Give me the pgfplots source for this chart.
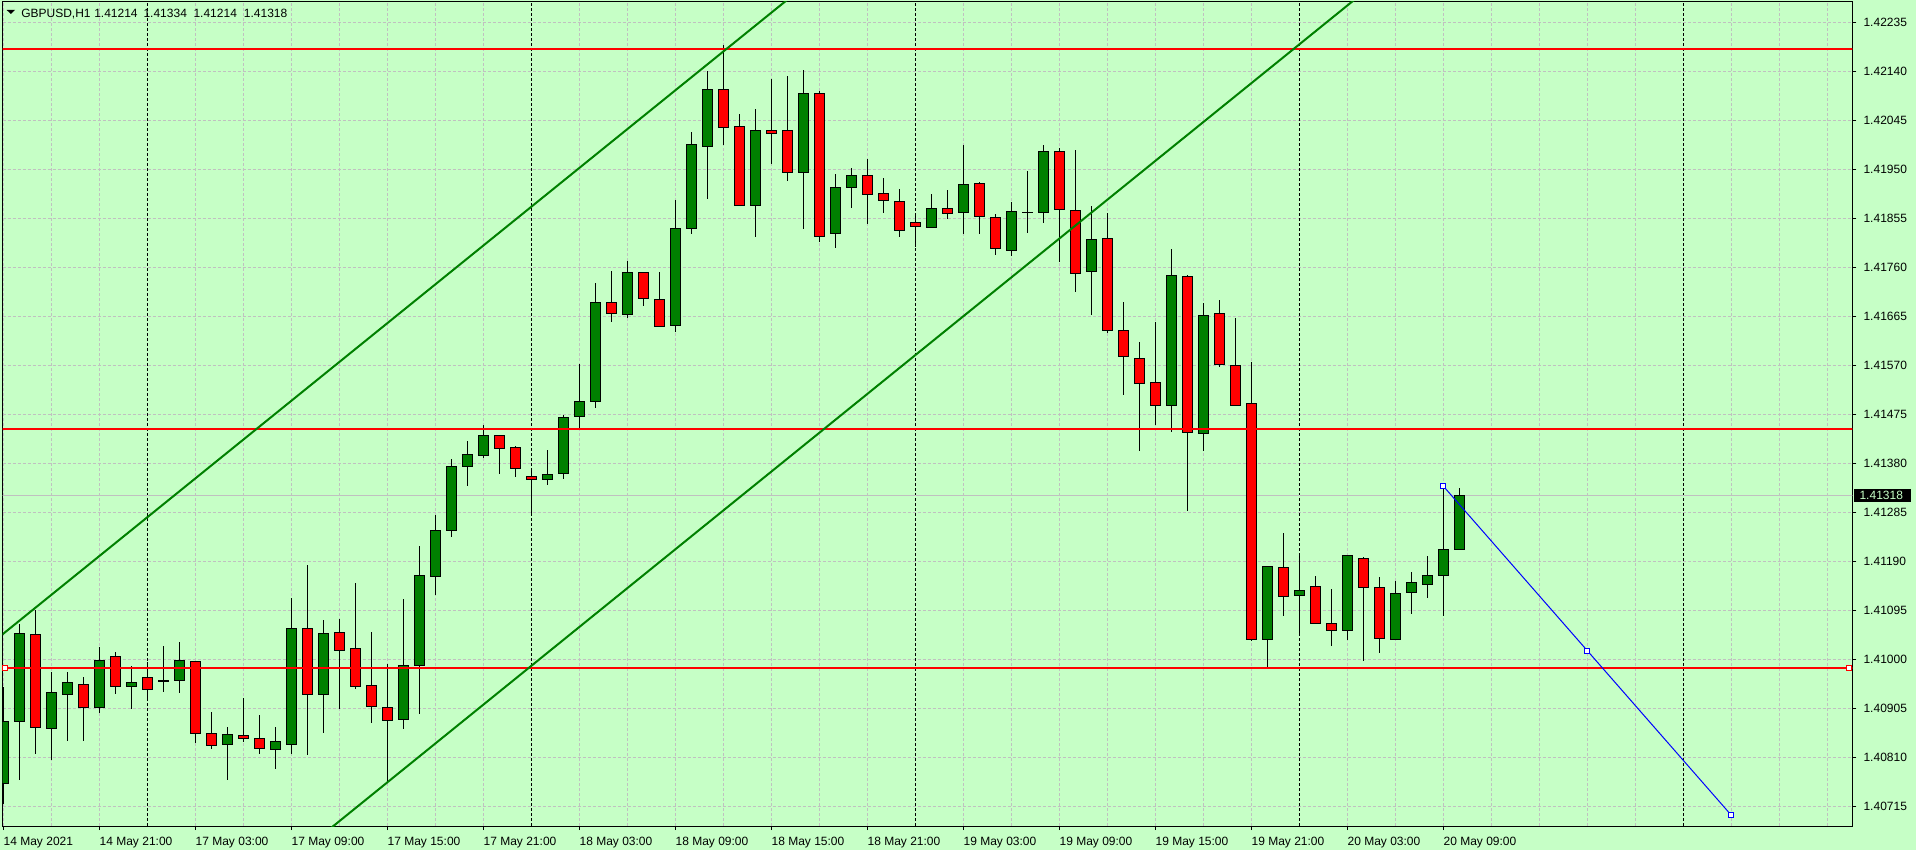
\documentclass[border=0pt]{standalone}
\usepackage{pgfplots}
\usepackage{pgfplotstable}
\usepackage{fontspec}
\setmainfont{Liberation Sans}
\pgfplotsset{compat=1.18}
\definecolor{bg}{RGB}{198,255,198}
\definecolor{gridc}{RGB}{192,192,192}
\definecolor{bull}{RGB}{0,128,0}
\definecolor{bear}{RGB}{255,0,0}
\definecolor{chan}{RGB}{0,128,0}

\pgfplotstableread{
i o h l c
0 1.40760 1.40947 1.40721 1.40880
1 1.40882 1.41070 1.40768 1.41051
2 1.41049 1.41097 1.40818 1.40868
3 1.40867 1.40976 1.40805 1.40936
4 1.40934 1.40976 1.40843 1.40956
5 1.40954 1.40966 1.40843 1.40909
6 1.40907 1.41026 1.40897 1.40998
7 1.41006 1.41016 1.40934 1.40948
8 1.40948 1.40987 1.40904 1.40956
9 1.40965 1.40997 1.40921 1.40942
10 1.40960 1.41028 1.40938 1.40960
11 1.40960 1.41034 1.40936 1.40998
12 1.40996 1.40998 1.40839 1.40857
13 1.40857 1.40898 1.40827 1.40834
14 1.40836 1.40870 1.40767 1.40855
15 1.40853 1.40925 1.40841 1.40847
16 1.40847 1.40892 1.40816 1.40828
17 1.40826 1.40869 1.40788 1.40841
18 1.40837 1.41120 1.40819 1.41062
19 1.41062 1.41183 1.40815 1.40934
20 1.40934 1.41077 1.40857 1.41051
21 1.41053 1.41079 1.40905 1.41019
22 1.41022 1.41150 1.40945 1.40948
23 1.40950 1.41055 1.40878 1.40909
24 1.40907 1.40991 1.40764 1.40882
25 1.40884 1.41119 1.40866 1.40989
26 1.40988 1.41222 1.40896 1.41163
27 1.41163 1.41280 1.41125 1.41252
28 1.41252 1.41389 1.41238 1.41376
29 1.41376 1.41424 1.41337 1.41398
30 1.41396 1.41455 1.41392 1.41435
31 1.41435 1.41435 1.41362 1.41409
32 1.41411 1.41414 1.41354 1.41371
33 1.41355 1.41365 1.41278 1.41349
34 1.41349 1.41407 1.41339 1.41359
35 1.41361 1.41475 1.41351 1.41471
36 1.41471 1.41573 1.41445 1.41501
37 1.41501 1.41732 1.41489 1.41693
38 1.41693 1.41755 1.41655 1.41671
39 1.41669 1.41773 1.41663 1.41751
40 1.41751 1.41751 1.41687 1.41700
41 1.41698 1.41751 1.41646 1.41646
42 1.41648 1.41893 1.41636 1.41836
43 1.41836 1.42024 1.41826 1.41999
44 1.41997 1.42141 1.41894 1.42106
45 1.42106 1.42193 1.41998 1.42032
46 1.42034 1.42057 1.41879 1.41881
47 1.41879 1.42069 1.41820 1.42026
48 1.42026 1.42126 1.41961 1.42020
49 1.42026 1.42133 1.41929 1.41945
50 1.41945 1.42143 1.41835 1.42098
51 1.42098 1.42104 1.41810 1.41820
52 1.41826 1.41943 1.41800 1.41915
53 1.41915 1.41955 1.41876 1.41939
54 1.41939 1.41970 1.41845 1.41902
55 1.41904 1.41935 1.41868 1.41890
56 1.41888 1.41914 1.41820 1.41832
57 1.41848 1.41867 1.41802 1.41840
58 1.41838 1.41903 1.41838 1.41875
59 1.41875 1.41912 1.41855 1.41865
60 1.41867 1.41999 1.41826 1.41921
61 1.41923 1.41926 1.41826 1.41859
62 1.41857 1.41865 1.41785 1.41797
63 1.41793 1.41888 1.41783 1.41869
64 1.41868 1.41948 1.41828 1.41868
65 1.41867 1.41997 1.41847 1.41985
66 1.41985 1.41991 1.41771 1.41873
67 1.41873 1.41989 1.41713 1.41751
68 1.41753 1.41881 1.41669 1.41815
69 1.41817 1.41867 1.41634 1.41638
70 1.41638 1.41694 1.41513 1.41588
71 1.41586 1.41615 1.41405 1.41537
72 1.41537 1.41655 1.41456 1.41493
73 1.41493 1.41797 1.41442 1.41745
74 1.41743 1.41746 1.41289 1.41440
75 1.41439 1.41693 1.41405 1.41667
76 1.41671 1.41698 1.41568 1.41572
77 1.41572 1.41662 1.41493 1.41493
78 1.41497 1.41576 1.41035 1.41039
79 1.41039 1.41183 1.40985 1.41181
80 1.41179 1.41247 1.41086 1.41122
81 1.41124 1.41204 1.41048 1.41134
82 1.41142 1.41163 1.41070 1.41070
83 1.41070 1.41138 1.41027 1.41058
84 1.41058 1.41202 1.41038 1.41202
85 1.41196 1.41200 1.40998 1.41140
86 1.41140 1.41159 1.41013 1.41041
87 1.41041 1.41153 1.41041 1.41130
88 1.41132 1.41169 1.41089 1.41152
89 1.41146 1.41202 1.41122 1.41165
90 1.41163 1.41336 1.41083 1.41214
91 1.41214 1.41334 1.41214 1.41318
}\ohlc

\begin{document}
\begin{tikzpicture}[x=1pt,y=1pt]
\fill[bg] (-1.875,-18) rectangle (1435.125,619.5);
\begin{axis}[
  at={(0pt,0pt)}, anchor=south west,
  scale only axis, width=1387.35pt, height=618pt,
  xmin=-0.056, xmax=115.56, ymin=1.406772, ymax=1.422747,
  axis line style={black, line width=0.75pt},
  xtick={0,6,...,90},
  xticklabels={14 May 2021, 14 May 21:00, 17 May 03:00, 17 May 09:00, 17 May 15:00, 17 May 21:00, 18 May 03:00, 18 May 09:00, 18 May 15:00, 18 May 21:00, 19 May 03:00, 19 May 09:00, 19 May 15:00, 19 May 21:00, 20 May 03:00, 20 May 09:00},
  minor xtick={3,15,21,27,39,45,51,63,69,75,87,93,96,99,102,108,111,114},
  ytick={1.40715,1.40810,1.40905,1.41000,1.41095,1.41190,1.41285,1.41380,1.41475,1.41570,1.41665,1.41760,1.41855,1.41950,1.42045,1.42140,1.42235},
  yticklabels={1.40715,1.40810,1.40905,1.41000,1.41095,1.41190,1.41285,1.41380,1.41475,1.41570,1.41665,1.41760,1.41855,1.41950,1.42045,1.42140,1.42235},
  xtick pos=left, ytick pos=right, yticklabel pos=right,
  tick align=outside, major tick length=3pt, minor tick length=0pt,
  tick style={black, line width=0.75pt},
  grid=both,
  major grid style={gridc, line width=0.75pt, dash pattern=on 2.25pt off 1.5pt},
  minor grid style={gridc, line width=0.75pt, dash pattern=on 2.25pt off 1.5pt},
  extra x ticks={9,33,57,81,105}, extra x tick labels={},
  extra x tick style={grid=major, major grid style={black, line width=0.75pt, dash pattern=on 2.25pt off 1.5pt}, major tick length=0pt},
  xticklabel style={anchor=base west, inner sep=0pt, yshift=-11.25pt},
  yticklabel style={anchor=west, inner sep=0pt, xshift=5.25pt},
  ticklabel style={font=\fontsize{9pt}{10pt}\selectfont},
]
% bid line
\addplot[gridc, line width=0.75pt, forget plot] coordinates {(-1,1.41318) (120,1.41318)};
% wicks
\addplot[forget plot, draw=none, mark=none,
  error bars/.cd, y dir=both, y explicit, error mark=none,
  error bar style={draw=black, line width=0.75pt}]
  table[x=i, y expr={(\thisrow{h}+\thisrow{l})/2}, y error expr={(\thisrow{h}-\thisrow{l})/2}] {\ohlc};
% body outlines
\addplot[forget plot, draw=none, mark=none,
  error bars/.cd, y dir=both, y explicit, error mark=none,
  error bar style={draw=black, line width=7.75pt}]
  table[x=i, y expr={(\thisrow{o}+\thisrow{c})/2}, y error expr={abs(\thisrow{c}-\thisrow{o})/2+0.0000097}] {\ohlc};
% bull bodies
\addplot[forget plot, draw=none, mark=none,
  restrict expr to domain={\thisrow{c}-\thisrow{o}}{0.000001:1},
  error bars/.cd, y dir=both, y explicit, error mark=none,
  error bar style={draw=bull, line width=6.25pt}]
  table[x=i, y expr={(\thisrow{o}+\thisrow{c})/2}, y error expr={max(abs(\thisrow{c}-\thisrow{o})/2-0.0000097,0)}] {\ohlc};
% bear bodies
\addplot[forget plot, draw=none, mark=none,
  restrict expr to domain={\thisrow{c}-\thisrow{o}}{-1:-0.000001},
  error bars/.cd, y dir=both, y explicit, error mark=none,
  error bar style={draw=bear, line width=6.25pt}]
  table[x=i, y expr={(\thisrow{o}+\thisrow{c})/2}, y error expr={max(abs(\thisrow{c}-\thisrow{o})/2-0.0000097,0)}] {\ohlc};
% horizontal levels
\addplot[bear, line width=1.5pt, forget plot] coordinates {(-1,1.42184) (120,1.42184)};
\addplot[bear, line width=1.3pt, forget plot] coordinates {(-1,1.41447) (120,1.41447)};
\addplot[bear, line width=1.5pt, forget plot] coordinates {(-1,1.40984) (120,1.40984)};
% channel
\addplot[chan, line width=1.5pt, forget plot] coordinates {(-2,1.41000) (60,1.42555)};
\addplot[chan, line width=1.5pt, forget plot] coordinates {(15,1.40536) (95,1.42544)};
% trend line
\addplot[blue, line width=0.75pt, mark=square*, mark size=1.9pt,
  mark options={solid, fill=white, draw=blue, line width=0.75pt}, forget plot]
  coordinates {(90,1.41336) (99,1.41017) (108,1.40698)};
\addplot[only marks, mark=square*, mark size=1.9pt,
  mark options={fill=white, draw=bear, line width=0.75pt}, forget plot]
  coordinates {(0.1,1.40984) (115.38,1.40984)};
\coordinate (bid) at (axis cs:115.56,1.41318);
\end{axis}
\fill[black] ([xshift=1.3pt,yshift=-4.8pt]bid) rectangle ([xshift=43.8pt,yshift=4.8pt]bid);
\node[anchor=west, inner sep=0pt, text=bg, font=\fontsize{9pt}{10pt}\selectfont] at ([xshift=5.25pt]bid) {1.41318};
% header
\fill[black] (3.15,612) -- (9.375,612) -- (6.26,609) -- cycle;
\begin{scope}[every node/.style={anchor=base west, inner sep=0pt, font=\fontsize{9pt}{10pt}\selectfont}]
\node at (13.875,606.5) {GBPUSD,H1};
\node at (68.625,606.5) {1.41214};
\node at (105.6,606.5) {1.41334};
\node at (143.1,606.5) {1.41214};
\node at (180.9,606.5) {1.41318};
\end{scope}
\pgfresetboundingbox
\path[use as bounding box] (-1.875,-18) rectangle (1435.125,619.5);
\end{tikzpicture}
\end{document}
